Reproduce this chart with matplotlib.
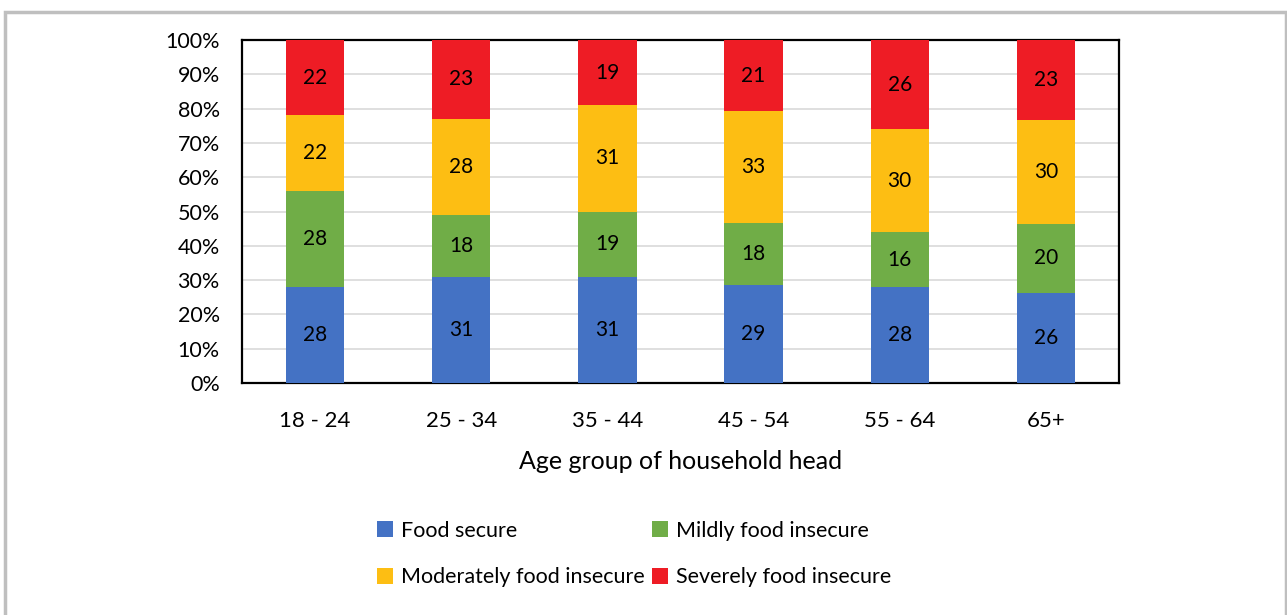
import numpy as np
import matplotlib.pyplot as plt
from matplotlib.patches import Rectangle, Patch

plt.rcParams['font.family'] = ['Lato', 'DejaVu Sans']

# Data (percent of households)
age_groups = ['18 - 24', '25 - 34', '35 - 44', '45 - 54', '55 - 64', '65+']
food_secure = [28, 31, 31, 29, 28, 26]
mildly = [28, 18, 19, 18, 16, 20]
moderately = [22, 28, 31, 33, 30, 30]
severely = [22, 23, 19, 21, 26, 23]

series_names = ['Food secure', 'Mildly food insecure',
                'Moderately food insecure', 'Severely food insecure']
colors = ['#4472C4', '#70AD47', '#FDBE13', '#EE1C25']

fig = plt.figure(figsize=(12.87, 6.15), dpi=100)
ax = fig.add_axes([242 / 1287, 1 - 383 / 615, (1119 - 242) / 1287, (383 - 40) / 615])

data = np.array([food_secure, mildly, moderately, severely], dtype=float)
totals = data.sum(axis=0)
shares = data / totals * 100

x = np.arange(len(age_groups))
bottom = np.zeros(len(age_groups))
for vals, raw, col in zip(shares, data, colors):
    ax.bar(x, vals, bottom=bottom, width=0.4, color=col, zorder=3)
    for xi, b, v, r in zip(x, bottom, vals, raw):
        ax.text(xi, b + v / 2, f'{int(r)}', ha='center', va='center',
                fontsize=15, color='black', zorder=4)
    bottom += vals

ax.set_xlim(-0.5, len(age_groups) - 0.5)
ax.set_ylim(0, 100)
ax.set_yticks(np.arange(0, 101, 10))
ax.set_yticklabels([f'{t}%' for t in range(0, 101, 10)], fontsize=15.5)
ax.set_xticks(x)
ax.set_xticklabels(age_groups, fontsize=16)
ax.tick_params(axis='both', length=0)
ax.tick_params(axis='x', pad=20)
ax.tick_params(axis='y', pad=16)
ax.yaxis.grid(True, color='#d9d9d9', linewidth=1.2, zorder=0)
ax.set_axisbelow(True)
for s in ax.spines.values():
    s.set_color('black')
    s.set_linewidth(1.6)
ax.set_xlabel('Age group of household head', fontsize=18, labelpad=14)

# legend is filled column by column, so order gives the row layout of the original
order = [0, 2, 1, 3]
handles = [Patch(facecolor=colors[i], edgecolor='none') for i in order]
labels = [series_names[i] for i in order]
fig.legend(handles, labels, loc='center', ncol=2,
           bbox_to_anchor=(634 / 1287, 1 - 554 / 615), frameon=False,
           fontsize=15.5, handlelength=0.75, handleheight=0.75,
           handletextpad=0.35, columnspacing=0.35, labelspacing=1.25)

# light grey frame around the chart
fig.patches.append(Rectangle((5 / 1287, -0.05), 1281 / 1287, 1.05 - 12 / 615,
                             transform=fig.transFigure, fill=False,
                             edgecolor='#bfbfbf', linewidth=2.5))

fig.savefig('out.png', dpi=100)
